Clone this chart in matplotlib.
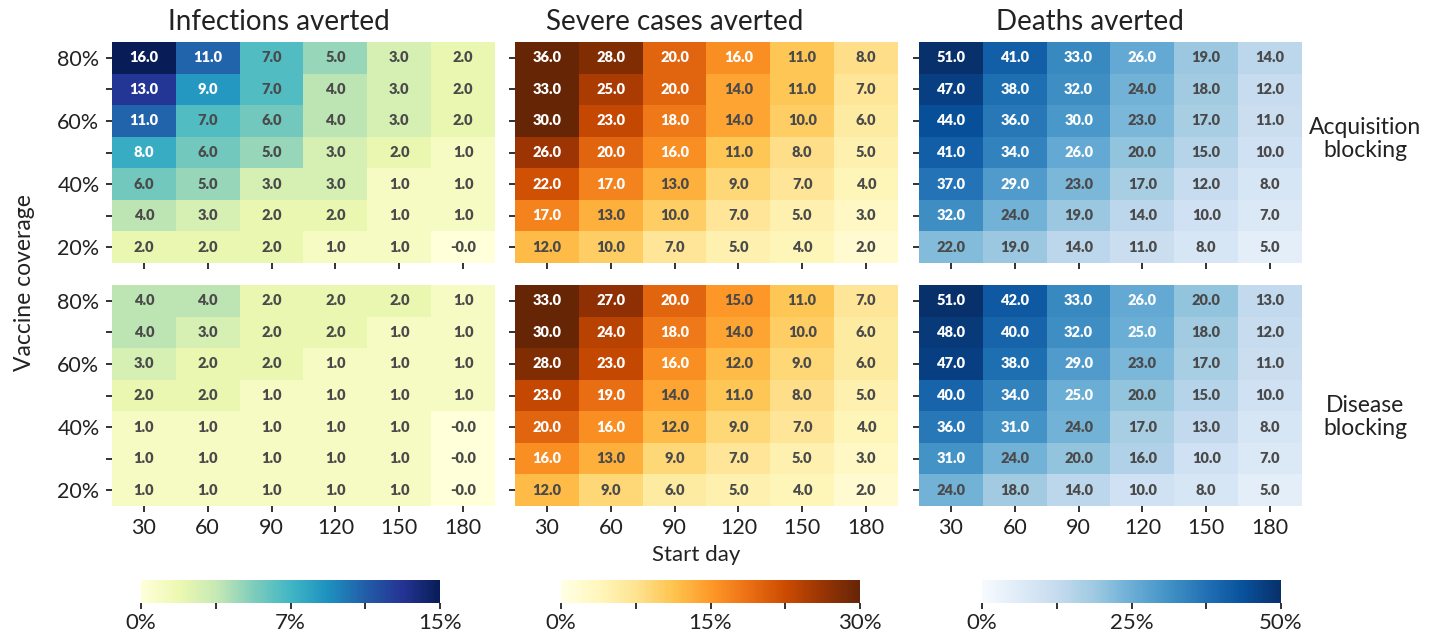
import matplotlib
matplotlib.use('Agg')
import matplotlib.pyplot as plt
import matplotlib.colors as mcolors
import numpy as np

plt.rcParams['font.family'] = ['Lato', 'DejaVu Sans']

# data
coverage = ['80%', '70%', '60%', '50%', '40%', '30%', '20%']
start_day = ['30', '60', '90', '120', '150', '180']
outcomes = ['Infections averted', 'Severe cases averted', 'Deaths averted']
modes = ['Acquisition\nblocking', 'Disease\nblocking']

inf_acq = [[16, 11, 7, 5, 3, 2],
           [13, 9, 7, 4, 3, 2],
           [11, 7, 6, 4, 3, 2],
           [8, 6, 5, 3, 2, 1],
           [6, 5, 3, 3, 1, 1],
           [4, 3, 2, 2, 1, 1],
           [2, 2, 2, 1, 1, -0.0]]
sev_acq = [[36, 28, 20, 16, 11, 8],
           [33, 25, 20, 14, 11, 7],
           [30, 23, 18, 14, 10, 6],
           [26, 20, 16, 11, 8, 5],
           [22, 17, 13, 9, 7, 4],
           [17, 13, 10, 7, 5, 3],
           [12, 10, 7, 5, 4, 2]]
dth_acq = [[51, 41, 33, 26, 19, 14],
           [47, 38, 32, 24, 18, 12],
           [44, 36, 30, 23, 17, 11],
           [41, 34, 26, 20, 15, 10],
           [37, 29, 23, 17, 12, 8],
           [32, 24, 19, 14, 10, 7],
           [22, 19, 14, 11, 8, 5]]
inf_dis = [[4, 4, 2, 2, 2, 1],
           [4, 3, 2, 2, 1, 1],
           [3, 2, 2, 1, 1, 1],
           [2, 2, 1, 1, 1, 1],
           [1, 1, 1, 1, 1, -0.0],
           [1, 1, 1, 1, 1, -0.0],
           [1, 1, 1, 1, 1, -0.0]]
sev_dis = [[33, 27, 20, 15, 11, 7],
           [30, 24, 18, 14, 10, 6],
           [28, 23, 16, 12, 9, 6],
           [23, 19, 14, 11, 8, 5],
           [20, 16, 12, 9, 7, 4],
           [16, 13, 9, 7, 5, 3],
           [12, 9, 6, 5, 4, 2]]
dth_dis = [[51, 42, 33, 26, 20, 13],
           [48, 40, 32, 25, 18, 12],
           [47, 38, 29, 23, 17, 11],
           [40, 34, 25, 20, 15, 10],
           [36, 31, 24, 17, 13, 8],
           [31, 24, 20, 16, 10, 7],
           [24, 18, 14, 10, 8, 5]]

vmax = [15, 30, 50]
cbar_labels = [['0%', '', '7%', '', '15%'],
               ['0%', '', '15%', '', '30%'],
               ['0%', '', '25%', '', '50%']]
cmaps = ['YlGnBu', 'YlOrBr', 'Blues']
# annotation turns white above this value
white_above = [7.5, 15.5, 24.5]

panels = [[inf_acq, sev_acq, dth_acq], [inf_dis, sev_dis, dth_dis]]

W, H = 1438, 634
fig = plt.figure(figsize=(W / 100, H / 100), dpi=100)

lefts = [112, 515, 919]
tops = [42, 285]
aw, ah = 383, 221

for r in range(2):
    for c in range(3):
        ax = fig.add_axes([lefts[c] / W, 1 - (tops[r] + ah) / H, aw / W, ah / H])
        data = np.array(panels[r][c], dtype=float)
        norm = mcolors.Normalize(0, vmax[c])
        ax.imshow(data, cmap=cmaps[c], norm=norm, aspect='auto', interpolation='nearest')
        for i in range(data.shape[0]):
            for j in range(data.shape[1]):
                tc = 'white' if data[i, j] > white_above[c] else '#4a4a4a'
                ax.text(j, i, f"{data[i, j]:.1f}", ha='center', va='center',
                        fontsize=10.5, fontweight='heavy', color=tc)
        for s in ax.spines.values():
            s.set_visible(False)
        ax.set_xticks(range(len(start_day)))
        ax.set_yticks(range(len(coverage)))
        ax.tick_params(length=4, width=1.3, color='#222222', labelsize=15.5,
                       labelcolor='#222222', pad=5)
        if r == 1:
            ax.set_xticklabels(start_day)
        else:
            ax.set_xticklabels([])
        if c == 0:
            ax.set_yticklabels([lab if k % 2 == 0 else '' for k, lab in enumerate(coverage)])
        else:
            ax.set_yticklabels([])

# titles
title_x = [279, 675, 1090]
for c in range(3):
    fig.text(title_x[c] / W, 1 - 22 / H, outcomes[c], ha='center', va='center',
             fontsize=20, color='#222222')

# row labels
fig.text(1365 / W, 1 - 139 / H, modes[0], ha='center', va='center',
         fontsize=16.5, color='#222222', linespacing=1.1)
fig.text(1365 / W, 1 - 417 / H, modes[1], ha='center', va='center',
         fontsize=16.5, color='#222222', linespacing=1.1)

fig.text(25 / W, 1 - 283 / H, 'Vaccine coverage', rotation=90, ha='center',
         va='center', fontsize=16.5, color='#222222')
fig.text(696 / W, 1 - 555 / H, 'Start day', ha='center', va='center',
         fontsize=16, color='#222222')

# colorbars
cb_left = [141, 561, 982]
for c in range(3):
    cax = fig.add_axes([cb_left[c] / W, 1 - 603 / H, 299 / W, 23 / H])
    sm = plt.cm.ScalarMappable(cmap=cmaps[c], norm=mcolors.Normalize(0, vmax[c]))
    cb = fig.colorbar(sm, cax=cax, orientation='horizontal')
    cb.outline.set_visible(False)
    ticks = np.linspace(0, vmax[c], 5)
    cb.set_ticks(ticks)
    cb.set_ticklabels(cbar_labels[c])
    cax.tick_params(length=4, width=1.3, color='#222222', labelsize=16,
                    labelcolor='#222222', pad=3)

fig.savefig('out.png', dpi=100)
